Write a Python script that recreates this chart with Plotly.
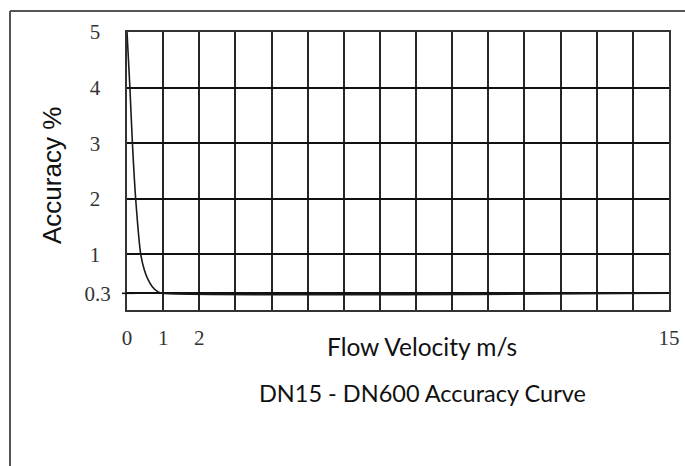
import plotly.graph_objects as go

# ---- data ----
velocity = [0, 0.04, 0.08, 0.15, 0.24, 0.38, 0.48, 0.58, 0.70, 0.85, 1.0, 15]
accuracy = [5, 4.5, 4.0, 3.0, 2.0, 1.0, 0.72, 0.55, 0.42, 0.33, 0.3, 0.3]

x_tick_vals = list(range(0, 16))
x_tick_text = ["0", "1", "2"] + [""] * 12 + ["15"]
y_tick_vals = [0.3, 1, 2, 3, 4, 5]
y_tick_text = ["0.3", "1", "2", "3", "4", "5"]

x_title = "Flow Velocity m/s"
y_title = "Accuracy %"
caption = "DN15 - DN600 Accuracy Curve"

# ---- layout geometry ----
W, H = 685, 466
L, R, T, B = 127, 16, 32, 156
PW, PH = W - L - R, H - T - B


def px(xp):
    return (xp - L) / PW


def py(yp):
    return (H - B - yp) / PH


fig = go.Figure()
fig.add_trace(go.Scatter(
    x=velocity, y=accuracy, mode="lines",
    line=dict(color="#1a1a1a", width=1.6, shape="spline", smoothing=0.6),
    hoverinfo="skip", showlegend=False,
))

nb = "\u00a0"
fig.update_layout(
    width=W, height=H,
    margin=dict(l=L, r=R, t=T, b=B, pad=0, autoexpand=False),
    paper_bgcolor="white", plot_bgcolor="white",
    showlegend=False,
    xaxis=dict(
        range=[0, 15], tickvals=x_tick_vals, ticktext=x_tick_text,
        showgrid=True, gridcolor="#262626", gridwidth=1.8,
        zeroline=False, showline=True, linecolor="#333", linewidth=2, mirror=True,
        ticks="", ticklabelstandoff=8, automargin=False,
        tickfont=dict(family="Liberation Serif", size=21, color="#333"),
        fixedrange=True,
    ),
    yaxis=dict(
        range=[0, 5], tickvals=y_tick_vals,
        ticktext=[t if len(t) > 1 else t + nb + nb for t in y_tick_text],
        showgrid=True, gridcolor="#111", gridwidth=1.8,
        zeroline=False, showline=True, linecolor="#333", linewidth=2, mirror=True,
        ticks="", ticklabelstandoff=10, automargin=False,
        tickfont=dict(family="Liberation Serif", size=21, color="#333"),
        fixedrange=True,
    ),
    font=dict(family="Liberation Sans", color="#111"),
)

# small tick mark at 0.3
fig.add_shape(type="line", xref="paper", yref="y",
              x0=px(122), x1=px(135), y0=0.3, y1=0.3,
              line=dict(color="#111", width=1.6))

# outer frame (top and left edges)
fig.add_shape(type="line", xref="paper", yref="paper",
              x0=px(10), x1=px(W + 5), y0=py(11), y1=py(11),
              line=dict(color="#555", width=2))
fig.add_shape(type="line", xref="paper", yref="paper",
              x0=px(10), x1=px(10), y0=py(11), y1=py(H + 5),
              line=dict(color="#555", width=2))

fig.add_annotation(text=x_title, xref="paper", yref="paper",
                   x=px(422), y=py(346), showarrow=False,
                   xanchor="center", yanchor="middle",
                   font=dict(family="Lato", size=24.5, color="#111"))
fig.add_annotation(text=caption, xref="paper", yref="paper",
                   x=px(422), y=py(393), showarrow=False,
                   xanchor="center", yanchor="middle",
                   font=dict(family="Lato", size=23.5, color="#111"))
fig.add_annotation(text=y_title, xref="paper", yref="paper",
                   x=px(52), y=py(176), showarrow=False, textangle=-90,
                   xanchor="center", yanchor="middle",
                   font=dict(family="Liberation Sans", size=26, color="#111"))

fig.write_html("out.html", config={"displayModeBar": False},
               post_script="document.body.style.margin='0';document.body.style.overflow='hidden';")
